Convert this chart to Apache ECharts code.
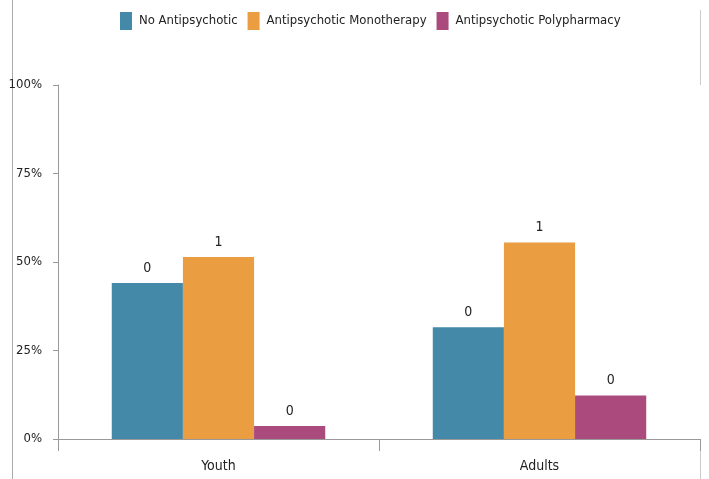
<!DOCTYPE html>
<html><head><meta charset="utf-8">
<script src="https://cdn.jsdelivr.net/npm/echarts@6/dist/echarts.min.js"></script>
<style>html,body{margin:0;padding:0;background:#fff}#c{width:709px;height:479px}</style>
</head><body><div id="c"></div>
<script>
const categories = ['Youth', 'Adults'];
const seriesNames = ['No Antipsychotic', 'Antipsychotic Monotherapy', 'Antipsychotic Polypharmacy'];
const noAntipsychotic = [0.441, 0.316];
const monotherapy = [0.514, 0.555];
const polypharmacy = [0.037, 0.123];
const yTicks = [0, 0.25, 0.5, 0.75, 1];
const colors = ['#4589A9', '#EB9D41', '#AB4A7C'];

const values = [noAntipsychotic, monotherapy, polypharmacy];
const chart = echarts.init(document.getElementById('c'));
const cond = '"DejaVu Sans Condensed", sans-serif';
chart.setOption({
  animation: false,
  color: colors,
  legend: {
    top: 12, left: 120, padding: 0, itemWidth: 12, itemHeight: 18, itemGap: 10,
    icon: 'rect',
    textStyle: { fontFamily: cond, fontSize: 13, color: '#222', padding: [0,0,0,2] },
    data: seriesNames
  },
  grid: { left: 58, right: 9, top: 85, bottom: 40 },
  xAxis: {
    type: 'category', data: categories,
    axisLine: { lineStyle: { color: '#999', width: 1 } },
    axisTick: { show: true, length: 12, lineStyle: { color: '#999' } },
    axisLabel: { fontFamily: cond, fontSize: 14, color: '#222', margin: 20 }
  },
  yAxis: {
    type: 'value', min: 0, max: 1, interval: 0.25,
    axisLine: { show: true, lineStyle: { color: '#999' } },
    axisTick: { show: true, length: 5, lineStyle: { color: '#999' } },
    splitLine: { show: false },
    axisLabel: {
      fontFamily: cond, fontSize: 13, color: '#222', margin: 16,
      formatter: v => Math.round(v * 100) + '%'
    }
  },
  series: values.map((d, i) => ({
    name: seriesNames[i], type: 'bar', data: d,
    barGap: '0%', barCategoryGap: '33.5%',
    itemStyle: { color: colors[i] },
    label: {
      show: true, position: 'top', distance: 8,
      fontFamily: cond, fontSize: 14, color: '#222',
      formatter: p => String(Math.round(p.value))
    }
  })),
  graphic: [
    { type: 'line', shape: { x1: 12.5, y1: 0, x2: 12.5, y2: 479 }, style: { stroke: '#aaa', lineWidth: 1 } },
    { type: 'line', shape: { x1: 700.5, y1: 10, x2: 700.5, y2: 85 }, style: { stroke: '#ccc', lineWidth: 1 } },
    { type: 'line', shape: { x1: 700.5, y1: 439, x2: 700.5, y2: 479 }, style: { stroke: '#ccc', lineWidth: 1 } }
  ]
});
</script></body></html>
